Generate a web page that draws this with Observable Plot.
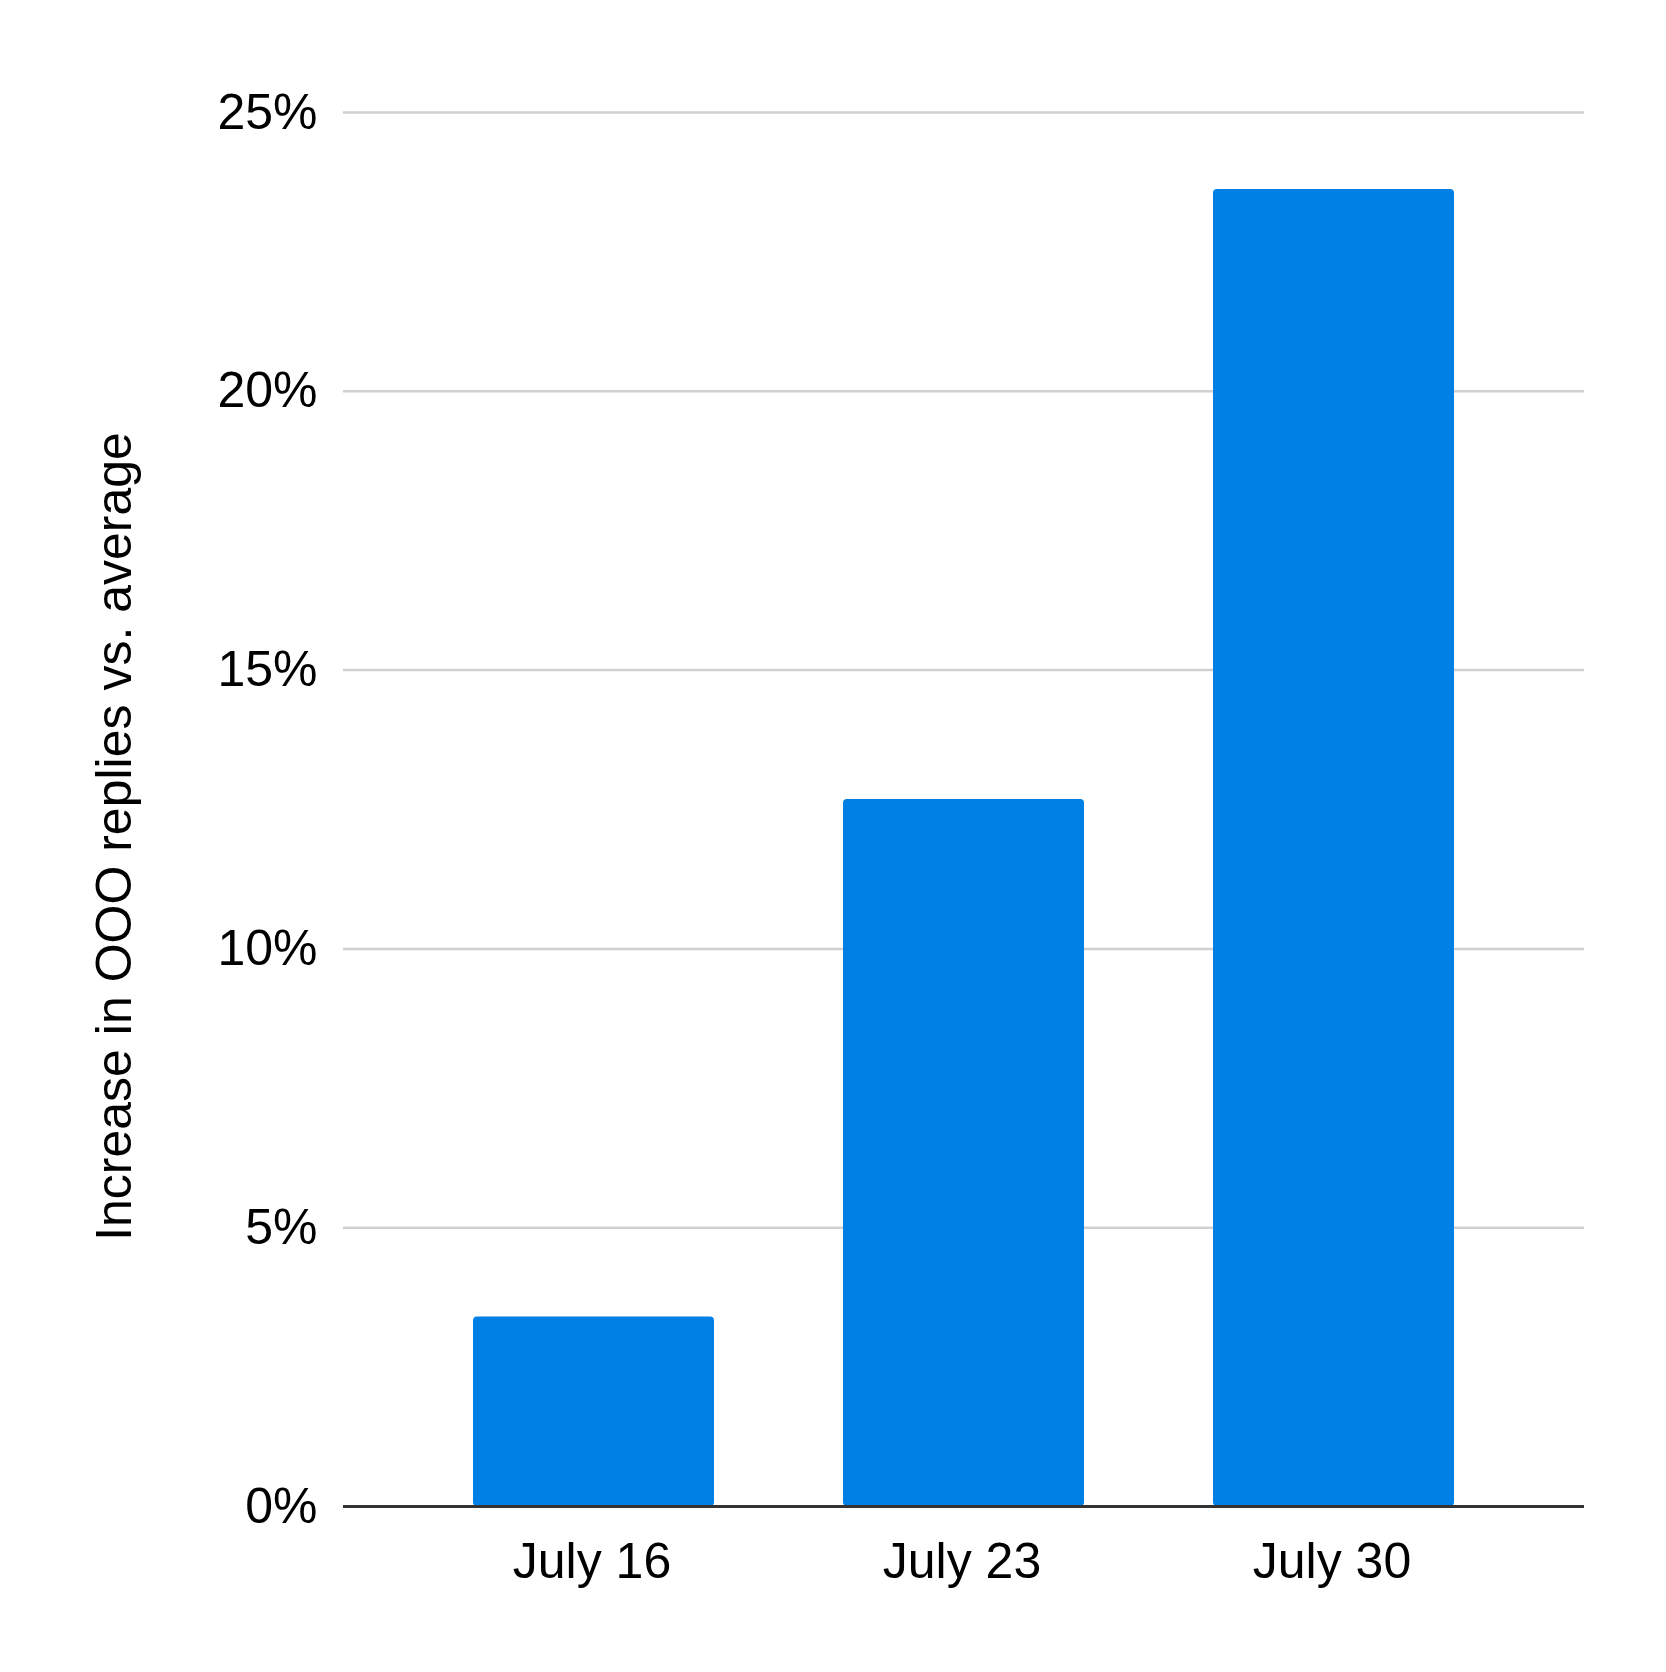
<!DOCTYPE html>
<html>
<head>
<meta charset="utf-8">
<script src="https://cdn.jsdelivr.net/npm/d3@7"></script>
<script src="https://cdn.jsdelivr.net/npm/@observablehq/plot@0.6"></script>
<style>
  html, body { margin: 0; padding: 0; background: #fff; }
</style>
</head>
<body>
<div id="chart"></div>
<script>
const categories = ["July 16", "July 23", "July 30"];
const values = [3.4, 12.68, 23.62];
const yTicks = [0, 5, 10, 15, 20, 25];
const yTitle = "Increase in OOO replies vs. average";

const data = categories.map((c, i) => ({week: c, value: values[i]}));

const chart = Plot.plot({
  width: 1666,
  height: 1672,
  marginTop: 112,
  marginBottom: 166,
  marginLeft: 343,
  marginRight: 82,
  style: {fontFamily: "'Liberation Sans', Arial, sans-serif", fontSize: "50px", color: "#000", background: "#fff"},
  x: {domain: categories, padding: 0.35, label: null},
  y: {domain: [0, 25], label: null},
  marks: [
    Plot.ruleY(yTicks.filter(d => d !== 0), {stroke: "#d0d0d0", strokeWidth: 2.5}),
    Plot.barY(data, {x: "week", y: "value", fill: "#0080e5", rx: 4}),
    Plot.ruleY([0], {stroke: "#333333", strokeWidth: 3}),
    Plot.axisY({ticks: yTicks, tickFormat: d => d + "%", tickSize: 0, tickPadding: 26, label: null}),
    Plot.axisX({tickSize: 0, tickPadding: 36, dx: -2, label: null}),
    Plot.text([yTitle], {frameAnchor: "left", rotate: -90, dx: -213, dy: 27, textAnchor: "middle", lineAnchor: "bottom", fill: "#000", fontSize: 50})
  ]
});
document.getElementById("chart").appendChild(chart);
</script>
</body>
</html>
